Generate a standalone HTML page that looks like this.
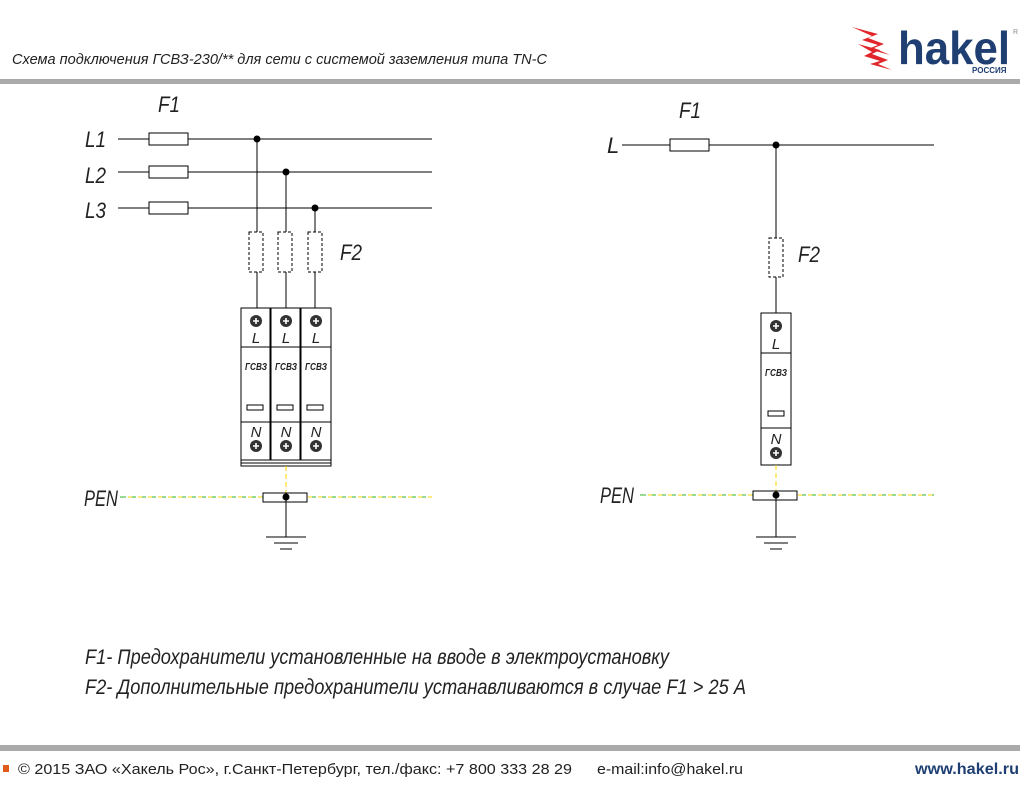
<!DOCTYPE html>
<html><head><meta charset="utf-8"><style>
html,body{margin:0;padding:0;background:#fff;width:1024px;height:800px;overflow:hidden}
svg{display:block}
.t{font-family:"Liberation Sans Narrow","Liberation Sans",sans-serif;font-style:italic;fill:#222}
</style></head><body>
<svg width="1024" height="800" viewBox="0 0 1024 800" xmlns="http://www.w3.org/2000/svg">
<text x="12" y="64" class="t" font-size="15" fill="#333" textLength="535" lengthAdjust="spacingAndGlyphs">Схема подключения ГСВЗ-230/** для сети с системой заземления типа TN-C</text>
<rect x="0" y="79" width="1020" height="5" fill="#aaa"/>
<g fill="#e0262a">
<polygon points="852,27 878,34 868,38 884,44 874,48 890,55 868,49 878,45 862,40 872,36"/>
<polygon points="858,44 880,50 872,54 888,60 878,64 892,70 870,64 880,61 864,56 872,52"/>
</g>
<text x="898" y="64" font-family="Liberation Sans,sans-serif" font-weight="bold" font-size="46" fill="#1f3f73" textLength="112" lengthAdjust="spacingAndGlyphs">hakel</text>
<text x="972" y="73" font-family="Liberation Sans,sans-serif" font-weight="bold" font-size="8" fill="#1f3f73">РОССИЯ</text>
<text x="1013" y="34" font-family="Liberation Sans,sans-serif" font-size="7" fill="#888">R</text>

<g stroke="#000" stroke-width="1" fill="none">
<line x1="118" y1="139" x2="432" y2="139"/>
<line x1="118" y1="172" x2="432" y2="172"/>
<line x1="118" y1="208" x2="432" y2="208"/>
<rect x="149" y="133" width="39" height="12" fill="#fff"/>
<rect x="149" y="166" width="39" height="12" fill="#fff"/>
<rect x="149" y="202" width="39" height="12" fill="#fff"/>
<line x1="257" y1="139" x2="257" y2="308"/>
<line x1="286" y1="172" x2="286" y2="308"/>
<line x1="315" y1="208" x2="315" y2="308"/>
<g stroke-dasharray="3,2" fill="#fff">
<rect x="249" y="232" width="14" height="40"/>
<rect x="278" y="232" width="14" height="40"/>
<rect x="308" y="232" width="14" height="40"/>
</g>
<rect x="241" y="308" width="29" height="152" fill="#fff"/>
<rect x="271" y="308" width="29" height="152" fill="#fff"/>
<rect x="301" y="308" width="30" height="152" fill="#fff"/>
<line x1="270.5" y1="308" x2="270.5" y2="460" stroke-width="2"/>
<line x1="300.5" y1="308" x2="300.5" y2="460" stroke-width="2"/>
<line x1="241" y1="347" x2="331" y2="347"/>
<line x1="241" y1="422" x2="331" y2="422"/>
<rect x="247" y="405" width="16" height="5"/>
<rect x="277" y="405" width="16" height="5"/>
<rect x="307" y="405" width="16" height="5"/>
<rect x="241" y="460" width="90" height="3"/>
<rect x="241" y="463" width="90" height="3"/>
<line x1="286" y1="466" x2="286" y2="493" stroke="#ffd600" stroke-dasharray="5,3"/>
<line x1="120" y1="497" x2="432" y2="497" stroke="#2bb52b" stroke-dasharray="6,4"/>
<line x1="126" y1="497" x2="432" y2="497" stroke="#ffd600" stroke-dasharray="4,6" stroke-dashoffset="-2"/>
<rect x="263" y="493" width="44" height="9" fill="#fff"/>
<line x1="286" y1="497" x2="286" y2="537"/>
<line x1="266" y1="537" x2="306" y2="537"/>
<line x1="274" y1="543" x2="298" y2="543"/>
<line x1="280" y1="549" x2="292" y2="549"/>

<line x1="622" y1="145" x2="934" y2="145"/>
<rect x="670" y="139" width="39" height="12" fill="#fff"/>
<line x1="776" y1="145" x2="776" y2="313"/>
<rect x="769" y="238" width="14" height="39" fill="#fff" stroke-dasharray="3,2"/>
<rect x="761" y="313" width="30" height="152" fill="#fff"/>
<line x1="761" y1="353" x2="791" y2="353"/>
<line x1="761" y1="428" x2="791" y2="428"/>
<rect x="768" y="411" width="16" height="5"/>
<line x1="776" y1="465" x2="776" y2="491" stroke="#ffd600" stroke-dasharray="5,3"/>
<line x1="640" y1="495" x2="934" y2="495" stroke="#2bb52b" stroke-dasharray="6,4"/>
<line x1="646" y1="495" x2="934" y2="495" stroke="#ffd600" stroke-dasharray="4,6" stroke-dashoffset="-2"/>
<rect x="753" y="491" width="44" height="9" fill="#fff"/>
<line x1="776" y1="495" x2="776" y2="537"/>
<line x1="756" y1="537" x2="796" y2="537"/>
<line x1="764" y1="543" x2="788" y2="543"/>
<line x1="770" y1="549" x2="782" y2="549"/>
</g>
<g fill="#000">
<circle cx="257" cy="139" r="3.5"/><circle cx="286" cy="172" r="3.5"/><circle cx="315" cy="208" r="3.5"/>
<circle cx="286" cy="497" r="3.5"/><circle cx="776" cy="145" r="3.5"/><circle cx="776" cy="495" r="3.5"/>
</g>
<g fill="#333">
<circle cx="256" cy="321" r="6"/><circle cx="286" cy="321" r="6"/><circle cx="316" cy="321" r="6"/>
<circle cx="256" cy="446" r="6"/><circle cx="286" cy="446" r="6"/><circle cx="316" cy="446" r="6"/>
<circle cx="776" cy="326" r="6"/><circle cx="776" cy="453" r="6"/>
</g>
<g stroke="#fff" stroke-width="1.6">
<path d="M253 321h6M256 318v6M283 321h6M286 318v6M313 321h6M316 318v6M253 446h6M256 443v6M283 446h6M286 443v6M313 446h6M316 443v6M773 326h6M776 323v6M773 453h6M776 450v6"/>
</g>
<g class="t" font-size="15" text-anchor="middle">
<text x="256" y="343">L</text><text x="286" y="343">L</text><text x="316" y="343">L</text>
<text x="256" y="437">N</text><text x="286" y="437">N</text><text x="316" y="437">N</text>
<text x="776" y="349">L</text><text x="776" y="444">N</text>
</g>
<g class="t" font-size="10" font-weight="bold">
<text x="245" y="370" textLength="22" lengthAdjust="spacingAndGlyphs">ГСВЗ</text>
<text x="275" y="370" textLength="22" lengthAdjust="spacingAndGlyphs">ГСВЗ</text>
<text x="305" y="370" textLength="22" lengthAdjust="spacingAndGlyphs">ГСВЗ</text>
<text x="765" y="376" textLength="22" lengthAdjust="spacingAndGlyphs">ГСВЗ</text>
</g>
<g class="t" font-size="22">
<text x="158" y="112" textLength="22" lengthAdjust="spacingAndGlyphs">F1</text>
<text x="85" y="147" textLength="21" lengthAdjust="spacingAndGlyphs">L1</text>
<text x="85" y="183" textLength="21" lengthAdjust="spacingAndGlyphs">L2</text>
<text x="85" y="218" textLength="21" lengthAdjust="spacingAndGlyphs">L3</text>
<text x="340" y="260" textLength="22" lengthAdjust="spacingAndGlyphs">F2</text>
<text x="84" y="506" textLength="34" lengthAdjust="spacingAndGlyphs">PEN</text>
<text x="679" y="118" textLength="22" lengthAdjust="spacingAndGlyphs">F1</text>
<text x="607" y="153">L</text>
<text x="798" y="262" textLength="22" lengthAdjust="spacingAndGlyphs">F2</text>
<text x="600" y="503" textLength="34" lengthAdjust="spacingAndGlyphs">PEN</text>
</g>
<g class="t" font-size="21">
<text x="85" y="664" textLength="584" lengthAdjust="spacingAndGlyphs">F1- Предохранители установленные на вводе в электроустановку</text>
<text x="85" y="694" textLength="661" lengthAdjust="spacingAndGlyphs">F2- Дополнительные предохранители устанавливаются в случае F1 &gt; 25 А</text>
</g>
<rect x="0" y="745" width="1020" height="6" fill="#aaa"/>
<rect x="3" y="765" width="6" height="7" fill="#e05a1a"/>
<text x="18" y="774" font-family="Liberation Sans,sans-serif" font-size="15" fill="#222" textLength="554" lengthAdjust="spacingAndGlyphs">© 2015 ЗАО «Хакель Рос», г.Санкт-Петербург, тел./факс: +7 800 333 28 29</text>
<text x="597" y="774" font-family="Liberation Sans,sans-serif" font-size="15" fill="#222" textLength="146" lengthAdjust="spacingAndGlyphs">e-mail:info@hakel.ru</text>
<text x="915" y="774" font-family="Liberation Sans,sans-serif" font-weight="bold" font-size="16" fill="#1f3f73" textLength="104" lengthAdjust="spacingAndGlyphs">www.hakel.ru</text>
</svg>
</body></html>
